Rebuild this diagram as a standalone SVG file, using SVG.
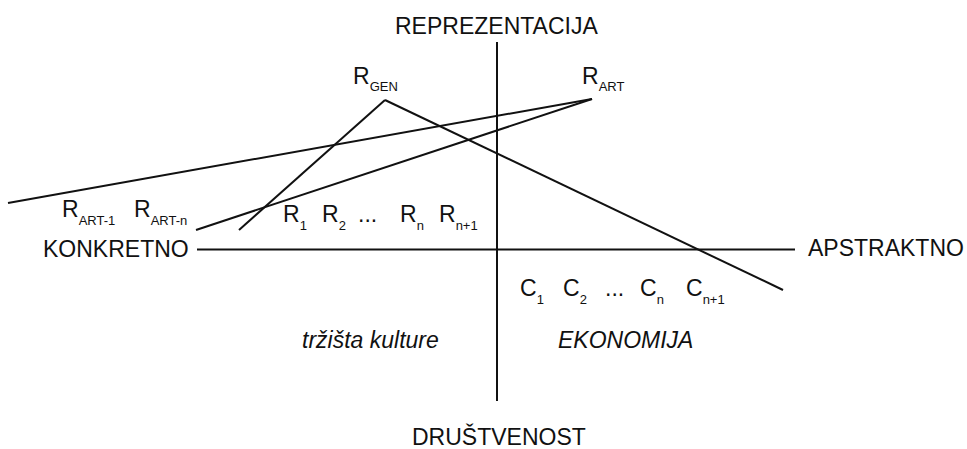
<svg xmlns="http://www.w3.org/2000/svg" width="967" height="449" viewBox="0 0 967 449">
<style>
text{font-family:"Liberation Sans",Arial,sans-serif;font-size:23px;fill:#111}
.s{font-size:13px}
.i{font-style:italic}
line{stroke:#111;stroke-width:2;stroke-linecap:butt}
</style>
<rect width="967" height="449" fill="#fff"/>
<g id="connectors">
<line id="axis-v" x1="497" y1="42" x2="497" y2="401"/>
<line id="axis-h" x1="197" y1="249.5" x2="795" y2="249.5"/>
<line id="gen-left" x1="385" y1="100" x2="239" y2="230"/>
<line id="gen-right" x1="385" y1="100" x2="783" y2="290"/>
<line id="art-left" x1="592" y1="99" x2="8" y2="203"/>
<line id="art-mid" x1="592" y1="99" x2="196" y2="230"/>
</g>
<g id="axis-labels">
<text id="reprezentacija" x="395" y="34">REPREZENTACIJA</text>
<text id="konkretno" x="43" y="257">KONKRETNO</text>
<text id="apstraktno" x="808" y="256">APSTRAKTNO</text>
<text id="drustvenost" x="412" y="445">DRUŠTVENOST</text>
</g>
<g id="r-gen"><text x="353" y="84">R<tspan class="s" dy="7">GEN</tspan></text></g>
<g id="r-art"><text x="582" y="84">R<tspan class="s" dy="7">ART</tspan></text></g>
<g id="r-art-row">
<text x="62" y="217">R<tspan class="s" dy="8">ART-1</tspan></text>
<text x="134" y="217">R<tspan class="s" dy="8">ART-n</tspan></text>
</g>
<g id="r-row">
<text x="283" y="222">R<tspan class="s" dy="8">1</tspan></text>
<text x="322" y="222">R<tspan class="s" dy="8">2</tspan></text>
<text x="358" y="222">...</text>
<text x="400" y="222">R<tspan class="s" dy="8">n</tspan></text>
<text x="439" y="222">R<tspan class="s" dy="8">n+1</tspan></text>
</g>
<g id="c-row">
<text x="520" y="296">C<tspan class="s" dy="8">1</tspan></text>
<text x="563" y="296">C<tspan class="s" dy="8">2</tspan></text>
<text x="605" y="296">...</text>
<text x="640" y="296">C<tspan class="s" dy="8">n</tspan></text>
<text x="686" y="296">C<tspan class="s" dy="8">n+1</tspan></text>
</g>
<g id="regions">
<text class="i" x="302" y="348">tržišta kulture</text>
<text class="i" x="558" y="348">EKONOMIJA</text>
</g>
</svg>
